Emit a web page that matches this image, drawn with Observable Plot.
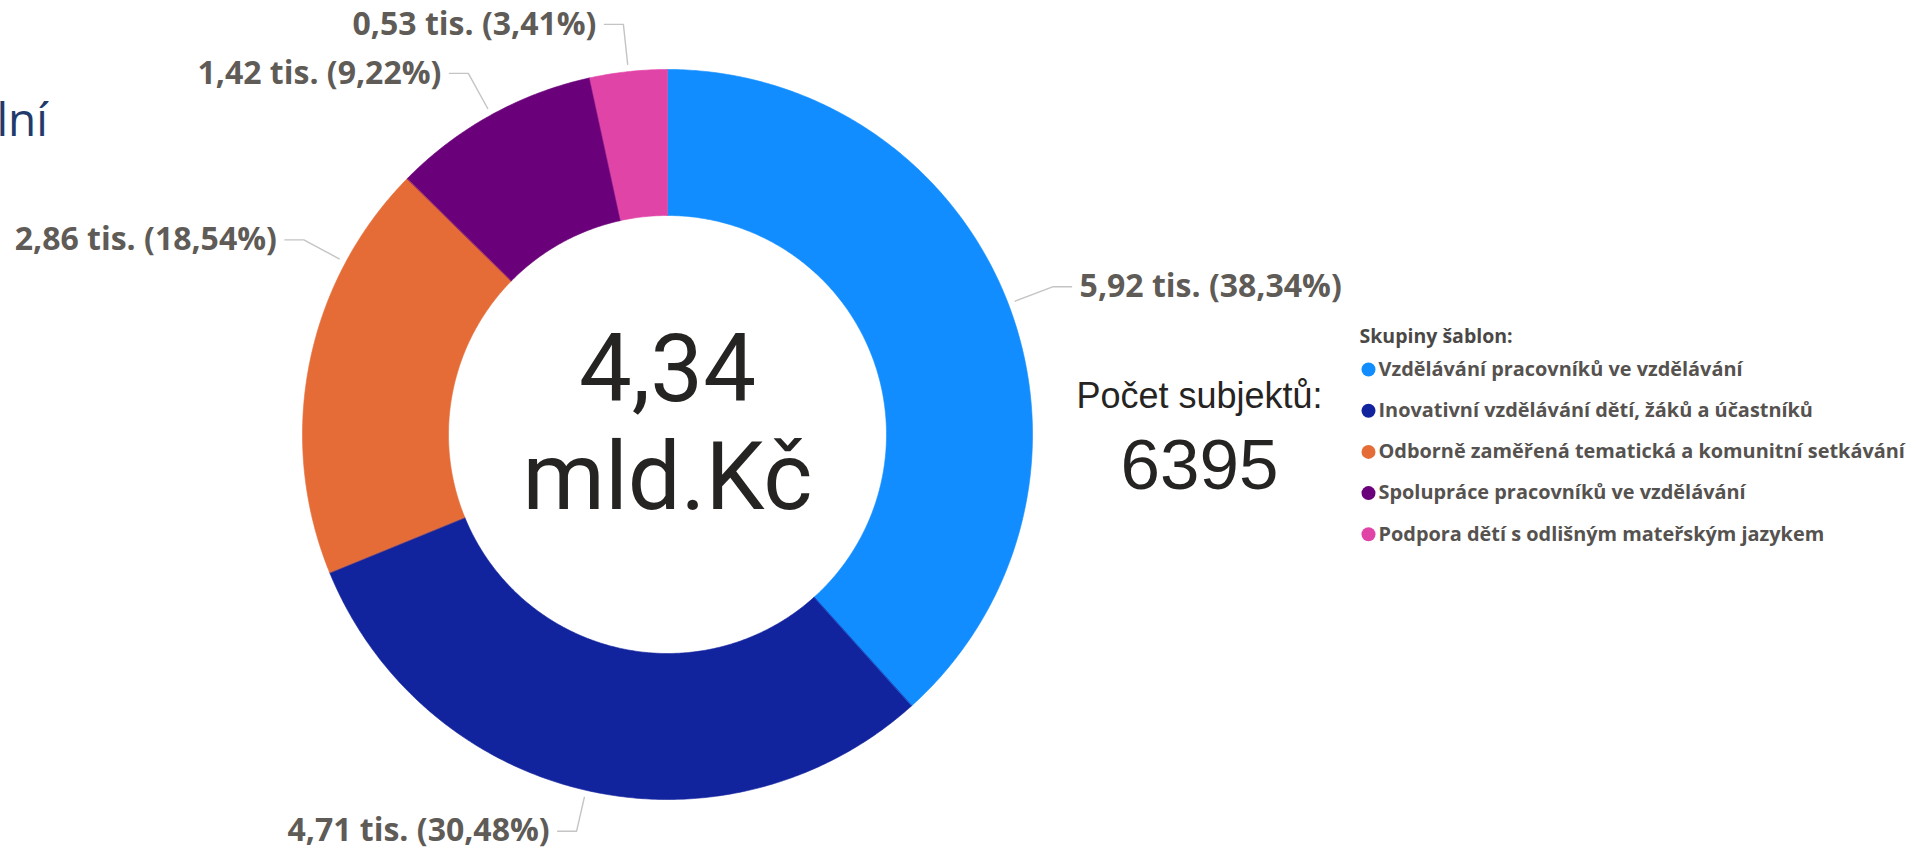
<!DOCTYPE html>
<html><head><meta charset="utf-8">
<script src="https://cdn.jsdelivr.net/npm/d3@7"></script>
<script src="https://cdn.jsdelivr.net/npm/@observablehq/plot@0.6"></script>
<style>
html,body{margin:0;padding:0;background:#fff;overflow:hidden;}
#chart{width:1918px;height:853px;}
#chart svg{display:block;}
</style></head><body><div id="chart"></div>
<script>
// ---- data ----
const categories = [
  "Vzdělávání pracovníků ve vzdělávání",
  "Inovativní vzdělávání dětí, žáků a účastníků",
  "Odborně zaměřená tematická a komunitní setkávání",
  "Spolupráce pracovníků ve vzdělávání",
  "Podpora dětí s odlišným mateřským jazykem"
];
const values = [5.92, 4.71, 2.86, 1.42, 0.53];      // tis.
const shares = [38.34, 30.48, 18.54, 9.22, 3.41];   // %
const colors = ["#118DFF", "#12239E", "#E66C37", "#6B007B", "#E044A7"];
const centerLines = ["4,34", "mld.Kč"];
const countTitle = "Počet subjektů:";
const countValue = "6395";
const legendTitle = "Skupiny šablon:";
const titleFragment = "lní";

// ---- layout ----
const W = 1918, H = 853, CX = 667, CY = 434, R = 365, INNER = 0.6;
const labelNudgeDeg = [0, 0, 17, 0, 0];
const elbowR = [1.13, 1.115, 1.13, 1.13, 1.13];

const fmt = (v, d) => v.toFixed(d).replace(".", ",");
const total = d3.sum(shares);
let acc = 0;
const slices = categories.map((c, i) => {
  const a0 = acc / total * 2 * Math.PI; acc += shares[i];
  const a1 = acc / total * 2 * Math.PI;
  return {key: c, a0, a1, i};
});

const ring = [];
slices.forEach(s => {
  const n = Math.max(4, Math.ceil((s.a1 - s.a0) / (Math.PI / 360)));
  for (let k = 0; k <= n; k++) { const t = s.a0 + (s.a1 - s.a0) * k / n; ring.push({key: s.key, x: Math.sin(t), y: Math.cos(t)}); }
  for (let k = n; k >= 0; k--) { const t = s.a0 + (s.a1 - s.a0) * k / n; ring.push({key: s.key, x: INNER * Math.sin(t), y: INNER * Math.cos(t)}); }
});

const leaders = [], labels = [];
slices.forEach(s => {
  const ang = (s.a0 + s.a1) / 2 + labelNudgeDeg[s.i] * Math.PI / 180;
  const side = Math.sin(ang) >= 0 ? 1 : -1;
  const p0 = {x: 1.02 * Math.sin(ang), y: 1.02 * Math.cos(ang)};
  const p1 = {x: elbowR[s.i] * Math.sin(ang), y: elbowR[s.i] * Math.cos(ang)};
  const p2 = {x: p1.x + side * 0.052, y: p1.y};
  [p0, p1, p2].forEach(p => leaders.push({id: s.i, ...p}));
  labels.push({x: p2.x, y: p2.y, side, text: `${fmt(values[s.i], 2)} tis. (${fmt(shares[s.i], 2)}%)`});
});

const labelStyle = {fontFamily: "Open Sans", fontWeight: "bold", fontSize: 32, fill: "#5f5b57", lineAnchor: "middle"};

const ann = (text, px, py, opts) => Plot.text([text], {frameAnchor: "top-left", dx: px, dy: py, text: d => d, lineAnchor: "bottom", textAnchor: "start", ...opts});

const legendMarks = [];
legendMarks.push(ann(legendTitle, 1359, 342, {fontFamily: "Open Sans", fontWeight: "bold", fontSize: 19.5, fill: "#4a4846"}));
categories.forEach((c, i) => {
  const cy = 369 + 41.2 * i;
  legendMarks.push(Plot.dot([c], {frameAnchor: "top-left", dx: 1368, dy: cy, r: 7, fill: d => d}));
  legendMarks.push(Plot.text([c], {frameAnchor: "top-left", dx: 1378, dy: cy, text: d => d, textAnchor: "start", lineAnchor: "middle",
    fontFamily: "Open Sans", fontWeight: "bold", fontSize: 19.9, fill: "#55524f"}));
});

const chart = Plot.plot({
  width: W, height: H, margin: 0,
  style: {background: "white", overflow: "visible"},
  x: {domain: [-1, 1], range: [CX - R, CX + R], axis: null},
  y: {domain: [-1, 1], range: [CY + R, CY - R], axis: null},
  color: {domain: categories, range: colors},
  marks: [
    Plot.line(ring, {x: "x", y: "y", z: "key", fill: "key", stroke: "key", strokeWidth: 0.6, curve: "linear-closed"}),
    Plot.line(leaders, {x: "x", y: "y", z: "id", stroke: "#c4c4c4", strokeWidth: 1.4}),
    Plot.text(labels.filter(d => d.side > 0), {x: "x", y: "y", text: "text", textAnchor: "start", dx: 8, ...labelStyle}),
    Plot.text(labels.filter(d => d.side < 0), {x: "x", y: "y", text: "text", textAnchor: "end", dx: -8, ...labelStyle}),
    Plot.text([centerLines[0]], {x: () => 0, y: () => 0, text: d => d, dy: -34, lineAnchor: "bottom",
      fontFamily: "Roboto", fontSize: 94, fill: "#252423"}),
    Plot.text([centerLines[1]], {x: () => 0, y: () => 0, text: d => d, dy: 74, lineAnchor: "bottom",
      fontFamily: "Roboto", fontSize: 94, fill: "#252423"}),
    ann(countTitle, 1199, 407, {textAnchor: "middle", fontFamily: "Liberation Sans", fontSize: 36, fill: "#252423"}),
    ann(countValue, 1199, 488, {textAnchor: "middle", fontFamily: "Liberation Sans", fontSize: 71, fill: "#252423"}),
    ann(titleFragment, -4, 135, {textAnchor: "start", fontFamily: "Open Sans", fontSize: 46, fill: "#1F3A6B"}),
    ...legendMarks
  ]
});
document.getElementById("chart").appendChild(chart);
</script>
</body></html>
